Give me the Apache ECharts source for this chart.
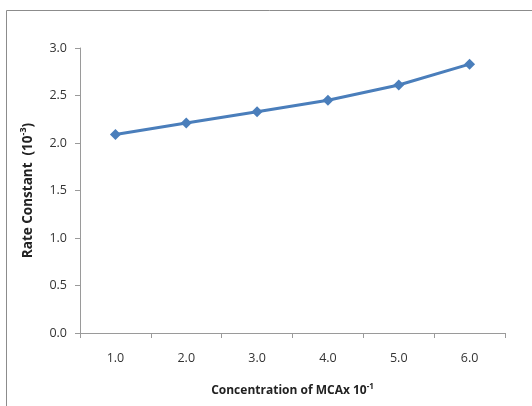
<!DOCTYPE html>
<html>
<head>
<meta charset="utf-8">
<script src="https://cdn.jsdelivr.net/npm/echarts@6/dist/echarts.min.js"></script>
<style>
html,body{margin:0;padding:0;background:#fff;}
#c{width:532px;height:406px;}
</style>
</head>
<body>
<div id="c"></div>
<script>
const categories = ['1.0', '2.0', '3.0', '4.0', '5.0', '6.0'];
const rateConstant = [2.09, 2.21, 2.33, 2.45, 2.61, 2.83];
const yTicks = { min: 0, max: 3, interval: 0.5 };

const chart = echarts.init(document.getElementById('c'), null, { renderer: 'canvas' });
const font = '"Open Sans", "Liberation Sans", sans-serif';
chart.setOption({
  animation: false,
  backgroundColor: '#fff',
  textStyle: { fontFamily: font },
  graphic: [{
    type: 'rect',
    shape: { x: 6.5, y: 10.5, width: 600, height: 500 },
    style: { fill: 'none', stroke: '#8c8c8c', lineWidth: 1 },
    silent: true
  }],
  grid: { left: 80, right: 27, top: 48, bottom: 73, containLabel: false },
  xAxis: {
    type: 'category',
    data: categories,
    boundaryGap: true,
    name: '{a|Concentration of MCAx 10}{s|-1}',
    nameLocation: 'middle',
    nameGap: 50,
    nameTextStyle: {
      rich: {
        a: { fontFamily: font, fontSize: 12, fontWeight: 'bold', color: '#222', lineHeight: 16 },
        s: { fontFamily: font, fontSize: 8, fontWeight: 'bold', color: '#222', verticalAlign: 'top', lineHeight: 16, padding: [0, 0, 4, 0] }
      }
    },
    axisLine: { lineStyle: { color: '#9a9a9a', width: 1 } },
    axisTick: { show: true, length: 5, lineStyle: { color: '#9a9a9a' } },
    axisLabel: { color: '#333', fontSize: 12.5, margin: 19, fontFamily: font },
    splitLine: { show: false }
  },
  yAxis: {
    type: 'value',
    min: yTicks.min,
    max: yTicks.max,
    interval: yTicks.interval,
    name: '{a|Rate Constant  (10}{s|-3}{a|)}',
    nameLocation: 'middle',
    nameGap: 43,
    nameRotate: 90,
    nameTextStyle: {
      rich: {
        a: { fontFamily: font, fontSize: 13.5, fontWeight: 'bold', color: '#222', lineHeight: 18 },
        s: { fontFamily: font, fontSize: 9, fontWeight: 'bold', color: '#222', verticalAlign: 'top', lineHeight: 18, padding: [0, 0, 4, 0] }
      }
    },
    axisLine: { show: true, lineStyle: { color: '#9a9a9a', width: 1 } },
    axisTick: { show: true, length: 5, lineStyle: { color: '#9a9a9a' } },
    axisLabel: { color: '#333', fontSize: 12.5, margin: 13, fontFamily: font, formatter: v => v.toFixed(1) },
    splitLine: { show: false }
  },
  series: [{
    type: 'line',
    data: rateConstant,
    symbol: 'diamond',
    symbolSize: 11,
    itemStyle: { color: '#4a7ebb' },
    lineStyle: { color: '#4a7ebb', width: 3 }
  }]
});
</script>
</body>
</html>
